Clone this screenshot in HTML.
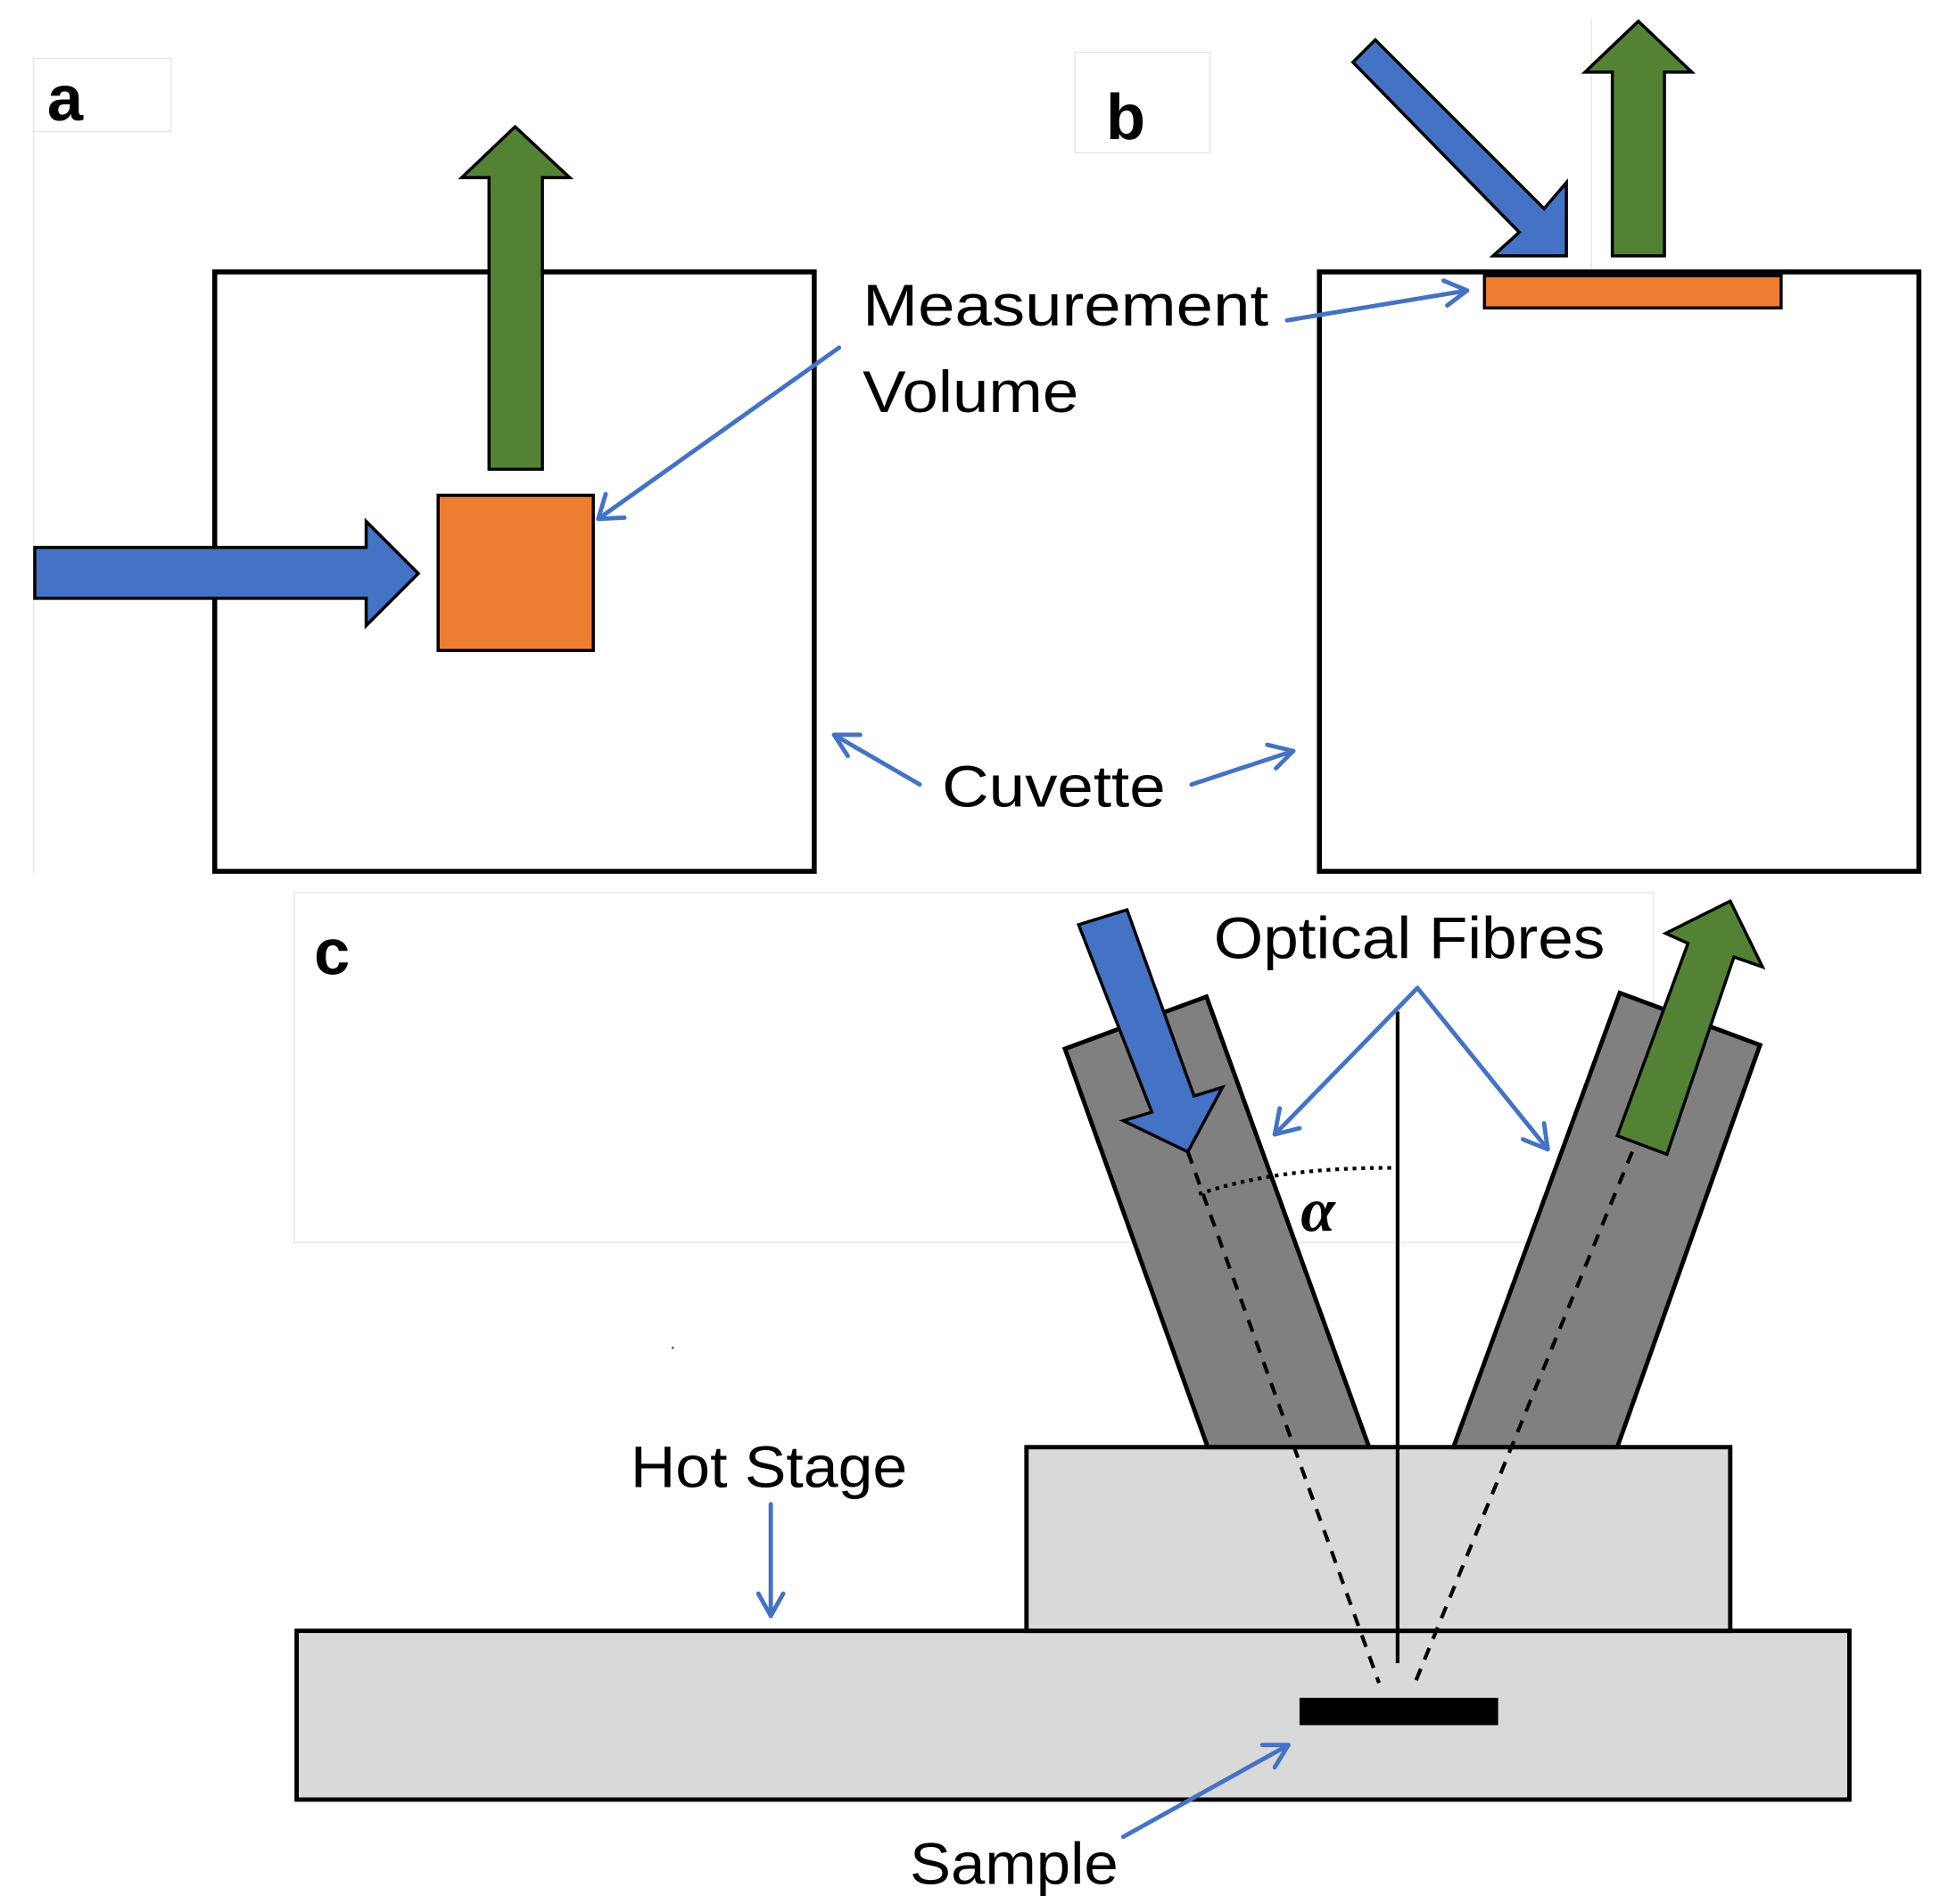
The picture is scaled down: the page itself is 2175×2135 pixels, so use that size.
<!DOCTYPE html>
<html><head><meta charset="utf-8"><style>html,body{margin:0;padding:0;background:#fff}svg{display:block}</style></head>
<body>
<svg width="2175" height="2135" viewBox="0 0 1563 1534" xmlns="http://www.w3.org/2000/svg" font-family="Liberation Sans, sans-serif">
<rect width="1563" height="1534" fill="#fff"/>
<g fill="none" stroke="#e6e6e6" stroke-width="1">
<rect x="27" y="47" width="111" height="59"/>
<line x1="27" y1="106" x2="27" y2="703"/>
<rect x="866" y="42" width="109" height="81"/>
<line x1="1282" y1="15" x2="1282" y2="220"/>
<rect x="237" y="719" width="1095" height="282"/>
</g>
<g font-weight="bold" font-size="52" fill="#000">
<text x="38" y="97">a</text>
<text x="891" y="112">b</text>
<text x="253" y="785">c</text>
</g>
<rect x="173" y="219" width="483" height="483" fill="none" stroke="#000" stroke-width="4"/>
<rect x="353" y="399" width="125" height="125" fill="#ED7D31" stroke="#000" stroke-width="2.5"/>
<polygon points="394,378 394,143 372,143 415,102 459,143 437,143 437,378" fill="#548235" stroke="#000" stroke-width="2.5"/>
<polygon points="28,441 295,441 295,420 337,462 295,504 295,482 28,482" fill="#4472C4" stroke="#000" stroke-width="2.5"/>
<rect x="1063" y="219" width="483" height="483" fill="none" stroke="#000" stroke-width="4"/>
<rect x="1196" y="222" width="239" height="26" fill="#ED7D31" stroke="#000" stroke-width="2.5"/>
<polygon points="1090,50 1108,32 1244,168 1262,147 1262,206 1203,206 1224,187" fill="#4472C4" stroke="#000" stroke-width="2.5"/>
<polygon points="1299,206 1299,58 1277,58 1320,17 1363,58 1341,58 1341,206" fill="#548235" stroke="#000" stroke-width="2.5"/>
<g font-size="47" fill="#000">
<text x="695" y="262" textLength="327" lengthAdjust="spacingAndGlyphs">Measurement</text>
<text x="695" y="332" textLength="174" lengthAdjust="spacingAndGlyphs">Volume</text>
<text x="759" y="650" textLength="180" lengthAdjust="spacingAndGlyphs">Cuvette</text>
<text x="978" y="772" textLength="315" lengthAdjust="spacingAndGlyphs">Optical Fibres</text>
<text x="508" y="1198" textLength="223" lengthAdjust="spacingAndGlyphs">Hot Stage</text>
<text x="733" y="1518" textLength="168" lengthAdjust="spacingAndGlyphs">Sample</text>
</g>
<rect x="239" y="1314" width="1251" height="136" fill="#D9D9D9" stroke="#000" stroke-width="3.5"/>
<rect x="827" y="1166" width="567" height="148" fill="#D9D9D9" stroke="#000" stroke-width="3.5"/>
<rect x="1047" y="1368" width="160" height="22" fill="#000"/>
<polygon points="858,845 972,803 1103,1166 973,1166" fill="#808080" stroke="#000" stroke-width="3.5"/>
<polygon points="1305,800 1418,842 1303,1166 1171,1166" fill="#808080" stroke="#000" stroke-width="3.5"/>
<polygon points="869,745 908,733 962,883 985,876 957,928 905,903 928,896" fill="#4472C4" stroke="#000" stroke-width="2.5"/>
<polygon points="1303,915 1360,760 1342,752 1394,726 1420,779 1397,771 1343,930" fill="#548235" stroke="#000" stroke-width="2.5"/>
<g stroke="#000" stroke-width="3" fill="none">
<line x1="957" y1="928" x2="1111" y2="1356" stroke-dasharray="10,8"/>
<line x1="1315" y1="928" x2="1140" y2="1356" stroke-dasharray="10,8"/>
<line x1="1126" y1="815" x2="1126" y2="1340"/>
<path d="M966,962 Q1030,940 1126,941" stroke-dasharray="3,4"/>
</g>
<text x="1048" y="992" font-size="50" font-weight="bold" font-style="italic" font-family="Liberation Serif, serif">α</text>
<circle cx="542" cy="1086" r="1" fill="#555"/>
<g stroke="#4472C4" stroke-width="3.5" fill="none" stroke-linecap="round" stroke-linejoin="round">
<line x1="676" y1="280" x2="482" y2="418"/><polyline points="488,398 482,418 503,417"/>
<line x1="1037" y1="258" x2="1182" y2="234"/><polyline points="1163,226 1182,234 1166,246"/>
<line x1="741" y1="632" x2="672" y2="592"/><polyline points="693,592 672,592 683,609"/>
<line x1="960" y1="632" x2="1042" y2="605"/><polyline points="1021,600 1042,605 1028,619"/>
<line x1="1142" y1="796" x2="1027" y2="914"/><polyline points="1031,893 1027,914 1047,909"/>
<line x1="1142" y1="796" x2="1247" y2="926"/><polyline points="1227,918 1247,926 1244,905"/>
<line x1="621" y1="1212" x2="621" y2="1302"/><polyline points="611,1284 621,1302 631,1284"/>
<line x1="905" y1="1480" x2="1038" y2="1406"/><polyline points="1017,1406 1038,1406 1027,1424"/>
</g>
</svg>
</body></html>
